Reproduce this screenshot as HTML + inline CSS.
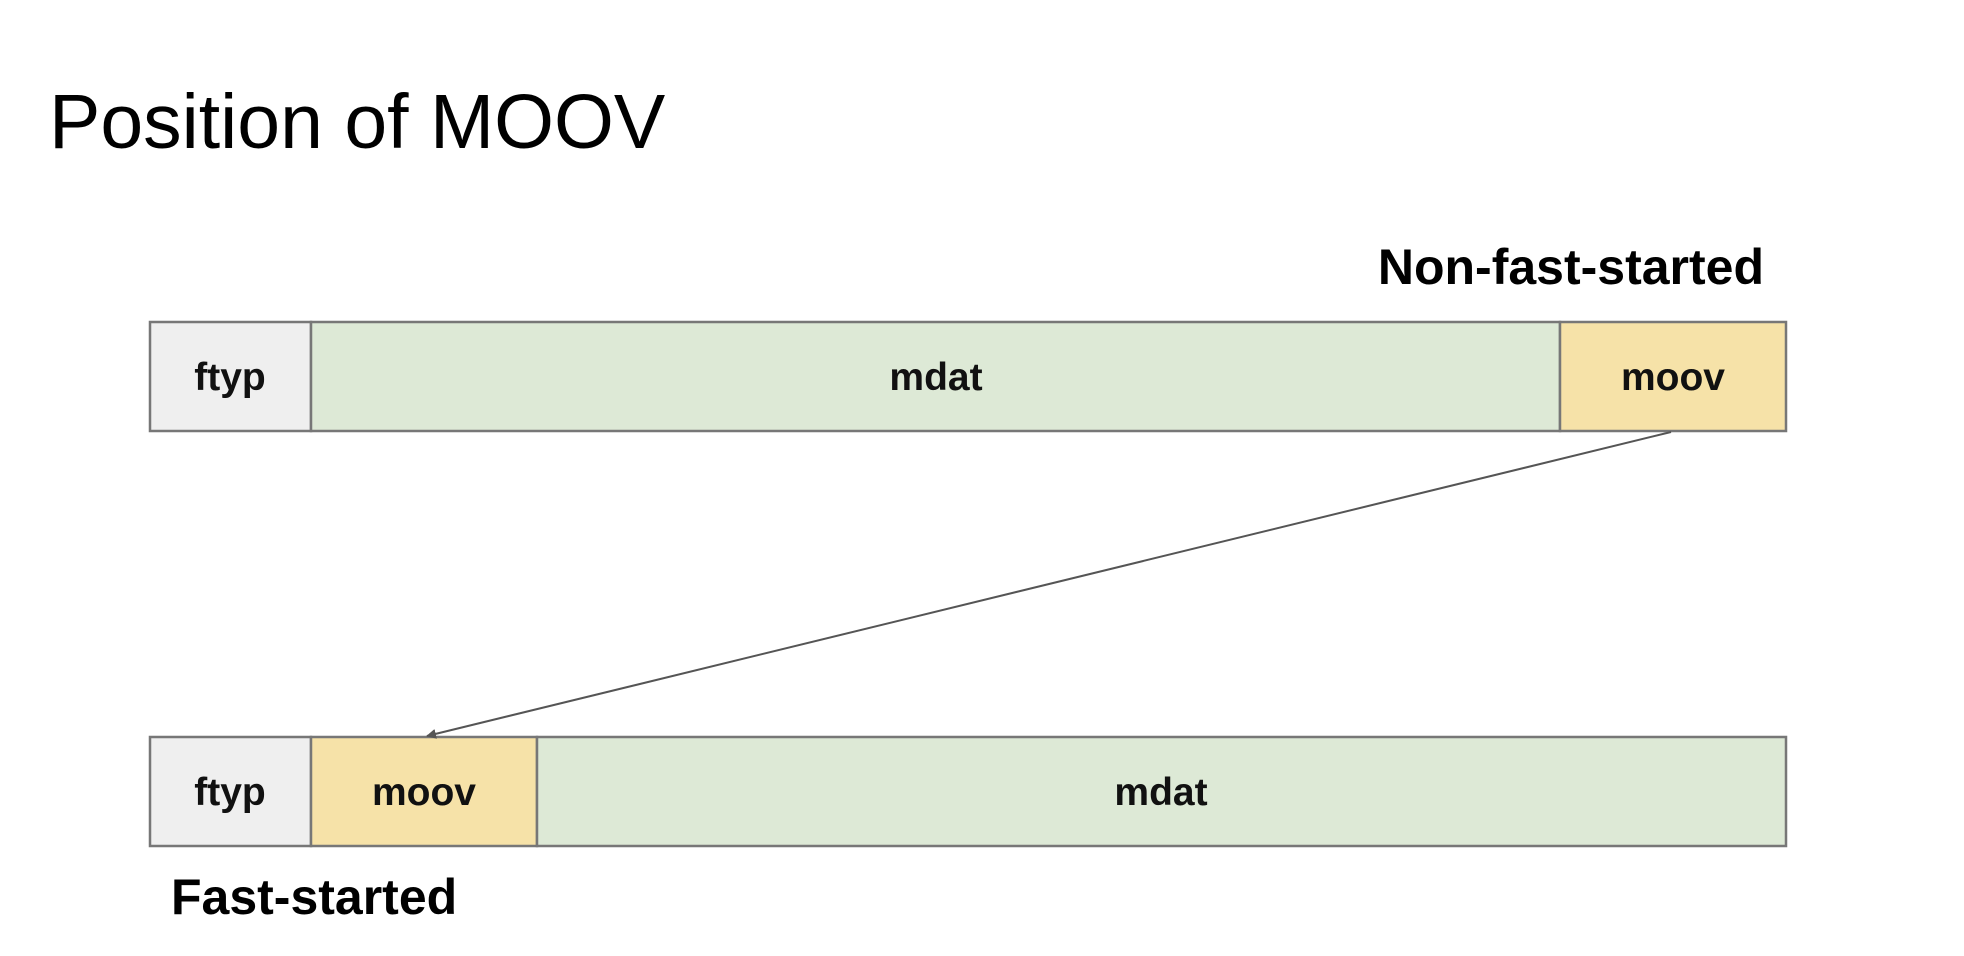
<!DOCTYPE html>
<html><head><meta charset="utf-8"><style>
html,body{margin:0;padding:0;background:#fff;}
body{width:1964px;height:956px;position:relative;overflow:hidden;font-family:"Liberation Sans",sans-serif;}
.t{position:absolute;white-space:nowrap;}
</style></head><body>
<div class="t" style="left:49px;top:78px;font-size:77px;color:#000;">Position of MOOV</div>
<div class="t" style="right:200px;top:238px;font-size:50px;font-weight:bold;">Non-fast-started</div>
<div class="t" style="left:171px;top:868px;font-size:50px;font-weight:bold;">Fast-started</div>
<svg width="1964" height="956" style="position:absolute;left:0;top:0">
<defs><marker id="ah" markerWidth="10" markerHeight="10" refX="9" refY="5" orient="auto" markerUnits="userSpaceOnUse"><path d="M0,0 L10,5 L0,10 z" fill="#555"/></marker></defs>
<g stroke="#777" stroke-width="2.5" font-family="Liberation Sans, sans-serif" font-weight="bold" font-size="39" text-anchor="middle">
<g>
<rect x="150" y="322" width="161" height="109" fill="#efefef"/>
<rect x="311" y="322" width="1249" height="109" fill="#dde9d6"/>
<rect x="1560" y="322" width="226" height="109" fill="#f6e2a8"/>
<text x="230" y="390" stroke="none" fill="#111">ftyp</text>
<text x="936" y="390" stroke="none" fill="#111">mdat</text>
<text x="1673" y="390" stroke="none" fill="#111">moov</text>
</g>
<g>
<rect x="150" y="737" width="161" height="109" fill="#efefef"/>
<rect x="311" y="737" width="226" height="109" fill="#f6e2a8"/>
<rect x="537" y="737" width="1249" height="109" fill="#dde9d6"/>
<text x="230" y="805" stroke="none" fill="#111">ftyp</text>
<text x="424" y="805" stroke="none" fill="#111">moov</text>
<text x="1161" y="805" stroke="none" fill="#111">mdat</text>
</g>
</g>
<line x1="1671" y1="432" x2="427" y2="736" stroke="#555" stroke-width="2" marker-end="url(#ah)"/>
</svg>
</body></html>
